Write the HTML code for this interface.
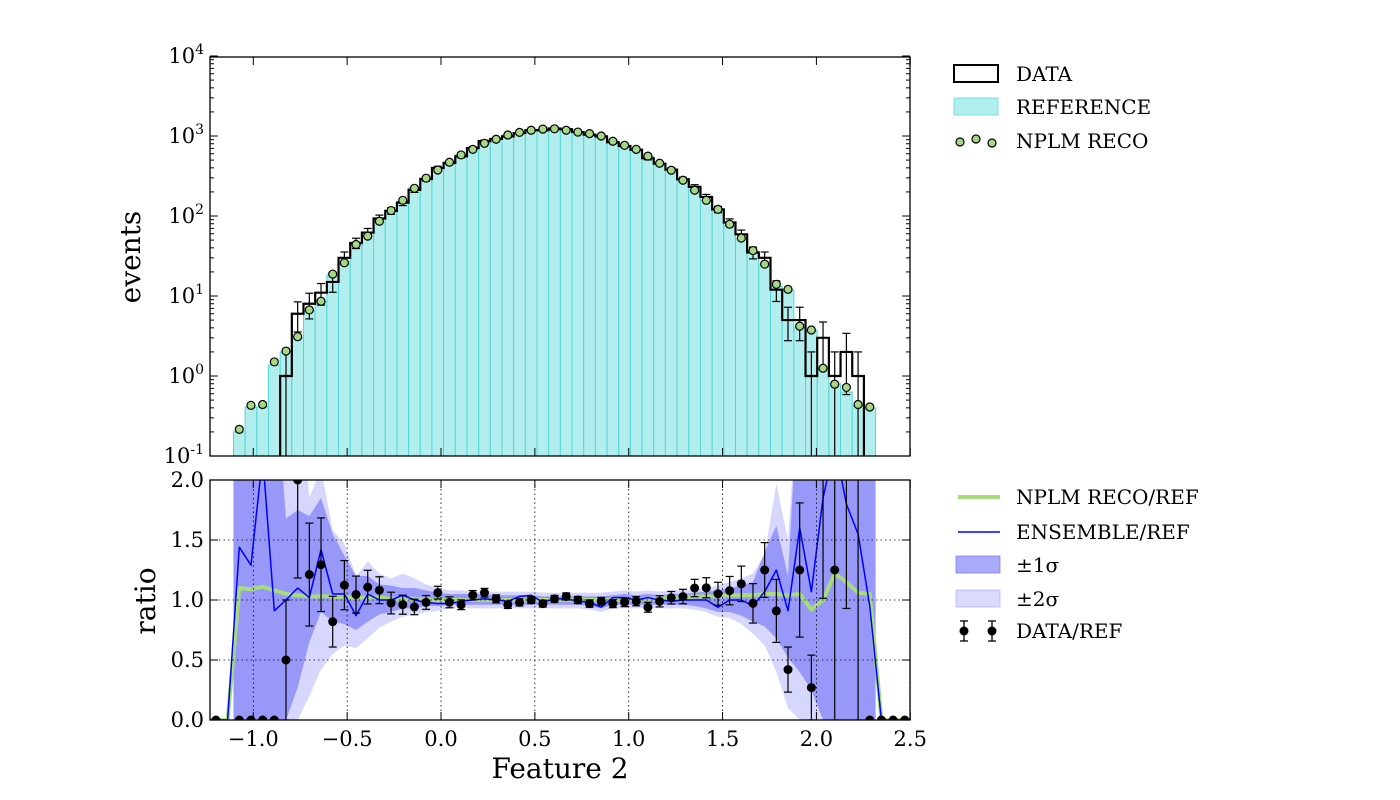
<!DOCTYPE html>
<html><head><meta charset="utf-8">
<style>
html,body{margin:0;padding:0;background:#fff;}
svg{display:block;font-family:"DejaVu Serif","Liberation Serif",serif;}
</style></head>
<body>
<svg id="chart" width="1400" height="800" viewBox="0 0 1400 800" xmlns="http://www.w3.org/2000/svg">
<defs>
<clipPath id="clipTop"><rect x="210" y="57" width="700" height="399"/></clipPath>
<clipPath id="clipBot"><rect x="210" y="480" width="700" height="240"/></clipPath>
</defs>
<g id="topPanel"></g>
<g id="botPanel"></g>
<g id="axesText">
<text transform="translate(140,257) rotate(-90)" text-anchor="middle" font-size="28">events</text>
<text transform="translate(155,601) rotate(-90)" text-anchor="middle" font-size="28">ratio</text>
<text x="560" y="778" text-anchor="middle" font-size="28">Feature 2</text>
</g>
<g id="legendTop">
<g>
<rect x="954" y="65" width="44" height="17" fill="none" stroke="#000" stroke-width="2"/>
<text x="1016" y="81" font-size="20">DATA</text></g>
<g>
<rect x="954" y="98" width="44" height="17" fill="#b0eeee" stroke="#7fe0e0" stroke-width="1"/>
<text x="1016" y="114" font-size="20">REFERENCE</text></g>
<g>
<circle cx="960" cy="142" r="4" fill="#a6d785" stroke="#000" stroke-width="1.2"/>
<circle cx="976" cy="139" r="4" fill="#a6d785" stroke="#000" stroke-width="1.2"/>
<circle cx="992" cy="143" r="4" fill="#a6d785" stroke="#000" stroke-width="1.2"/>
<text x="1016" y="148" font-size="20">NPLM RECO</text></g>
</g>
<g id="legendBot">
<g>
<line x1="958" y1="497" x2="1000" y2="497" stroke="#a6dd7a" stroke-width="4"/>
<text x="1016" y="504" font-size="20">NPLM RECO/REF</text></g>
<g>
<line x1="958" y1="532" x2="1000" y2="532" stroke="#0000ff" stroke-width="1.5"/>
<text x="1016" y="539" font-size="20">ENSEMBLE/REF</text></g>
<g>
<rect x="956" y="556" width="44" height="17" fill="rgba(100,100,250,0.55)" stroke="rgba(100,100,250,0.6)"/>
<text x="1016" y="572" font-size="20">±1σ</text></g>
<g>
<rect x="956" y="590" width="44" height="17" fill="rgba(150,150,250,0.35)" stroke="rgba(150,150,250,0.5)"/>
<text x="1016" y="606" font-size="20">±2σ</text></g>
<g>
<line x1="964" y1="621" x2="964" y2="641" stroke="#000" stroke-width="1.3"/>
<line x1="960" y1="621" x2="968" y2="621" stroke="#000" stroke-width="1.3"/>
<line x1="960" y1="641" x2="968" y2="641" stroke="#000" stroke-width="1.3"/>
<circle cx="964" cy="631" r="4.5" fill="#000"/>
<line x1="992" y1="621" x2="992" y2="641" stroke="#000" stroke-width="1.3"/>
<line x1="988" y1="621" x2="996" y2="621" stroke="#000" stroke-width="1.3"/>
<line x1="988" y1="641" x2="996" y2="641" stroke="#000" stroke-width="1.3"/>
<circle cx="992" cy="631" r="4.5" fill="#000"/>
<text x="1016" y="638" font-size="20">DATA/REF</text></g>
</g>
</svg>
<script>
const refCounts = [0.2,0.41,0.41,1.37,2.0,3.0,6.6,8.5,18.3,26.7,
44,56,86,119,153,225,296,375,470,580,
680,810,910,1030,1110,1180,1220,1230,1180,1120,
1070,1000,860,765,680,560,456,373,280,210,
157,115,77,52,36,24,13.2,11.9,4.0,3.7,
1.25,0.8,0.63,0.42,0.4];
const dataCounts = [0,0,0,0,1,6,8,11,15,30,
46,62,93,116,147,212,290,398,461,557,
707,859,919,989,1088,1180,1183,1242,1215,1120,
1038,990,834,750,673,526,451,380,288,231,
173,121,83,59,35,30,12,5,5,1,
3,1,2,1,0];
const recoCounts = [0.215,0.43,0.44,1.5,2.05,3.1,6.7,8.6,18.8,26,
44,56,86,117,157,222,297,376,470,580,
680,810,910,1030,1110,1180,1220,1230,1180,1120,
1070,1000,860,765,680,560,456,373,280,210,
157,121,79,53,37,25,14,12.1,4.2,3.76,
1.25,0.79,0.72,0.44,0.41];
const nplmRatio = [1.1,1.09,1.11,1.08,1.05,1.04,1.03,1.03,1.03,1.02,
1.02,1.02,1.02,1.01,1.01,1.01,1.0,1.0,1.0,1.0,
1.0,1.0,1.0,1.0,1.0,1.0,1.0,1.0,1.0,1.0,
1.0,1.0,1.0,1.0,1.0,1.01,1.01,1.02,1.02,1.03,
1.03,1.03,1.04,1.04,1.04,1.05,1.05,1.04,1.05,0.92,
1.0,1.22,1.15,1.06,1.05];
const ensembleRatio = [1.44,1.29,2.2,0.91,1.0,1.1,1.02,1.42,1.05,1.05,
0.87,1.05,1.0,1.0,1.04,1.0,0.98,0.97,0.97,0.99,
1.0,1.01,1.0,0.99,1.03,1.04,0.98,1.01,1.01,0.99,
0.98,0.94,1.02,1.02,1.0,1.02,1.0,0.99,1.0,1.0,
1.0,0.94,1.0,1.0,0.95,1.07,1.25,0.91,1.6,1.07,
1.85,2.3,1.8,1.55,0.95];
const sigma1Up = [3,3,3,3,1.68,1.75,1.7,1.85,1.55,1.37,
1.2,1.2,1.13,1.12,1.1,1.1,1.08,1.06,1.05,1.05,
1.05,1.05,1.04,1.04,1.04,1.04,1.03,1.03,1.03,1.03,
1.03,1.03,1.04,1.05,1.04,1.05,1.04,1.05,1.05,1.06,
1.07,1.08,1.1,1.12,1.15,1.4,1.62,1.2,3,3,
3,3,3,3,3];
const sigma1Lo = [0,0,0,0,0,0.27,0.65,0.9,0.82,0.8,
0.75,0.82,0.88,0.9,0.93,0.93,0.95,0.95,0.96,0.96,
0.96,0.96,0.96,0.96,0.96,0.96,0.96,0.96,0.96,0.96,
0.95,0.93,0.96,0.96,0.96,0.96,0.96,0.96,0.96,0.95,
0.93,0.9,0.9,0.87,0.82,0.78,0.68,0.52,0.4,0.25,
0,0,0,0,0];
const sigma2Up = [3,3,3,3,3,3,1.85,2.1,1.58,1.47,
1.2,1.32,1.22,1.18,1.22,1.18,1.13,1.1,1.08,1.08,
1.07,1.07,1.07,1.07,1.07,1.07,1.06,1.06,1.06,1.06,
1.06,1.06,1.07,1.08,1.07,1.08,1.07,1.08,1.08,1.09,
1.1,1.12,1.15,1.18,1.22,1.38,1.97,1.5,3,3,
3,3,3,3,3];
const sigma2Lo = [0,0,0,0,0,0,0.2,0.42,0.55,0.62,
0.6,0.68,0.77,0.82,0.86,0.88,0.9,0.91,0.93,0.93,
0.93,0.93,0.93,0.93,0.93,0.93,0.93,0.93,0.93,0.93,
0.92,0.9,0.93,0.93,0.93,0.93,0.93,0.93,0.93,0.92,
0.9,0.86,0.85,0.8,0.72,0.62,0.4,0.1,0,0,
0,0,0,0,0];
const ratioZeroBins = [-2,55,56,57];
const xTickLabels = ["\u22121.0","\u22120.5","0.0","0.5","1.0","1.5","2.0","2.5"];
const xTickValues = [-1.0,-0.5,0.0,0.5,1.0,1.5,2.0,2.5];
const yTopExponents = [-1,0,1,2,3,4];
const yBotTicks = [0.0,0.5,1.0,1.5,2.0];
const yBotTickLabels = ["0.0","0.5","1.0","1.5","2.0"];
const binStart = -1.1057, binWidth = 0.0622;

const NS = "http://www.w3.org/2000/svg";
const xPix = v => 253.3 + (v + 1) * 187.7;
const yTopPix = v => v <= 0 ? 470 : 376 - 80 * Math.log10(v);
const yBotPix = r => 720 - 120 * r;
const center = k => binStart + (k + 0.5) * binWidth;
function mk(tag, attrs, parent){const e=document.createElementNS(NS,tag);for(const a in attrs)e.setAttribute(a,attrs[a]);parent.appendChild(e);return e;}

const topG = document.getElementById('topPanel');
const botG = document.getElementById('botPanel');

// ---------- TOP PANEL ----------
const gTop = mk('g',{'clip-path':'url(#clipTop)'},topG);
refCounts.forEach((v,k)=>{
  const x0=xPix(binStart+k*binWidth), x1=xPix(binStart+(k+1)*binWidth);
  const r=mk('rect',{x:x0,y:yTopPix(v),width:x1-x0,height:Math.max(0,470-yTopPix(v)),fill:'#b2eeee',stroke:'#55d6d6','stroke-width':1},gTop);
  
  
});
let d='';
dataCounts.forEach((v,k)=>{
  const x0=xPix(binStart+k*binWidth), x1=xPix(binStart+(k+1)*binWidth), y=yTopPix(v);
  d += (k===0?'M':'L')+x0+','+y+' L'+x1+','+y+' ';
});
const stepPath = mk('path',{d:d,fill:'none',stroke:'#000','stroke-width':2.2},gTop);


dataCounts.forEach((v,k)=>{
  if(v<=0) return;
  const cx=xPix(center(k)), s=Math.sqrt(v);
  const y1=yTopPix(v+s), y2=v-s>0?yTopPix(v-s):470;
  const g=mk('g',{stroke:'#000','stroke-width':1.2},gTop);
  
  
  mk('line',{x1:cx,x2:cx,y1:y1,y2:y2},g);
  mk('line',{x1:cx-4,x2:cx+4,y1:y1,y2:y1},g);
  mk('line',{x1:cx-4,x2:cx+4,y1:y2,y2:y2},g);
});
recoCounts.forEach((v,k)=>{
  const c=mk('circle',{cx:xPix(center(k)),cy:yTopPix(v),r:4,fill:'#a6d785',stroke:'#000','stroke-width':1.2},gTop);
  
  
});
mk('rect',{x:210,y:57,width:700,height:399,fill:'none',stroke:'#000','stroke-width':1.3},topG);
const tTop=mk('g',{stroke:'#000','stroke-width':1},topG);
yTopExponents.forEach(e=>{
  const y=376-80*e;
  mk('line',{x1:210,x2:218,y1:y,y2:y},tTop);mk('line',{x1:902,x2:910,y1:y,y2:y},tTop);
  if(e<4){for(let m=2;m<10;m++){const ym=376-80*(e+Math.log10(m));mk('line',{x1:210,x2:214,y1:ym,y2:ym},tTop);mk('line',{x1:906,x2:910,y1:ym,y2:ym},tTop);}}
  const t=mk('text',{x:204,y:y+7,'text-anchor':'end','font-size':21,stroke:'none'},topG);
  
  
  const a=document.createElementNS(NS,'tspan');a.textContent='10';t.appendChild(a);
  const b=document.createElementNS(NS,'tspan');b.setAttribute('dy','-9');b.setAttribute('font-size','14');b.textContent=String(e);t.appendChild(b);
});
xTickValues.forEach(v=>{const x=xPix(v);mk('line',{x1:x,x2:x,y1:456,y2:448},tTop);mk('line',{x1:x,x2:x,y1:57,y2:65},tTop);});

// ---------- BOTTOM PANEL ----------
const gBot=mk('g',{'clip-path':'url(#clipBot)'},botG);
function band(up,lo,fill,name){
  const n=up.length;
  const xl=xPix(binStart), xr=xPix(binStart+n*binWidth);
  let p='M'+xl+','+yBotPix(up[0])+' ';
  up.forEach((v,k)=>{p+='L'+xPix(center(k))+','+yBotPix(v)+' ';});
  p+='L'+xr+','+yBotPix(up[n-1])+' L'+xr+','+yBotPix(lo[n-1])+' ';
  for(let k=n-1;k>=0;k--){p+='L'+xPix(center(k))+','+yBotPix(lo[k])+' ';}
  p+='L'+xl+','+yBotPix(lo[0])+' Z';
  const e=mk('path',{d:p,fill:fill,stroke:'none'},gBot);
  
  
}
band(sigma2Up,sigma2Lo,'rgba(160,160,250,0.42)','band-2sigma');
band(sigma1Up,sigma1Lo,'rgba(90,90,245,0.5)','band-1sigma');
const grid=mk('g',{stroke:'#000','stroke-width':0.8,'stroke-dasharray':'1.5,3'},botG);
xTickValues.forEach(v=>{const x=xPix(v);mk('line',{x1:x,x2:x,y1:480,y2:720},grid);});
yBotTicks.forEach(r=>{const y=yBotPix(r);mk('line',{x1:210,x2:910,y1:y,y2:y},grid);});
function ratioLine(arr,color,w,name){
  let p='M210,720 L'+xPix(center(-1))+',720 ';
  arr.forEach((v,k)=>{p+='L'+xPix(center(k))+','+yBotPix(v)+' ';});
  p+='L'+xPix(center(arr.length))+',720 L910,720';
  const e=mk('path',{d:p,fill:'none',stroke:color,'stroke-width':w,'stroke-linejoin':'round'},gBot);
  
  
}
ratioLine(nplmRatio,'#a6dd7a',4,'nplm-ratio-line');
ratioLine(ensembleRatio,'#0000ff',1.5,'ensemble-ratio-line');
dataCounts.forEach((v,k)=>{
  const r=v/refCounts[k], cx=xPix(center(k));
  if(v>0){
    const e=Math.sqrt(v)/refCounts[k];
    const g=mk('g',{stroke:'#000','stroke-width':1.2},gBot);
    
    
    const y1=yBotPix(r+e), y2=yBotPix(Math.max(0,r-e));
    mk('line',{x1:cx,x2:cx,y1:y1,y2:y2},g);
    mk('line',{x1:cx-4,x2:cx+4,y1:y1,y2:y1},g);
    mk('line',{x1:cx-4,x2:cx+4,y1:y2,y2:y2},g);
  }
  const c=mk('circle',{cx:cx,cy:yBotPix(r),r:4.5,fill:'#000'},gBot);
  
  
});
ratioZeroBins.forEach(k=>{
  const c=mk('circle',{cx:xPix(center(k)),cy:720,r:4.5,fill:'#000'},gBot);
  
  
});
mk('rect',{x:210,y:480,width:700,height:240,fill:'none',stroke:'#000','stroke-width':1.3},botG);
const tBot=mk('g',{stroke:'#000','stroke-width':1},botG);
yBotTicks.forEach((r,i)=>{
  const y=yBotPix(r);
  mk('line',{x1:210,x2:218,y1:y,y2:y},tBot);mk('line',{x1:902,x2:910,y1:y,y2:y},tBot);
  const t=mk('text',{x:204,y:y+7,'text-anchor':'end','font-size':21},botG);
  t.textContent=yBotTickLabels[i];
  
  
});
xTickValues.forEach((v,i)=>{
  const x=xPix(v);
  mk('line',{x1:x,x2:x,y1:720,y2:712},tBot);mk('line',{x1:x,x2:x,y1:480,y2:488},tBot);
  const t=mk('text',{x:x,y:746,'text-anchor':'middle','font-size':21},botG);
  t.textContent=xTickLabels[i];
  
  
});
</script>
</body></html>
